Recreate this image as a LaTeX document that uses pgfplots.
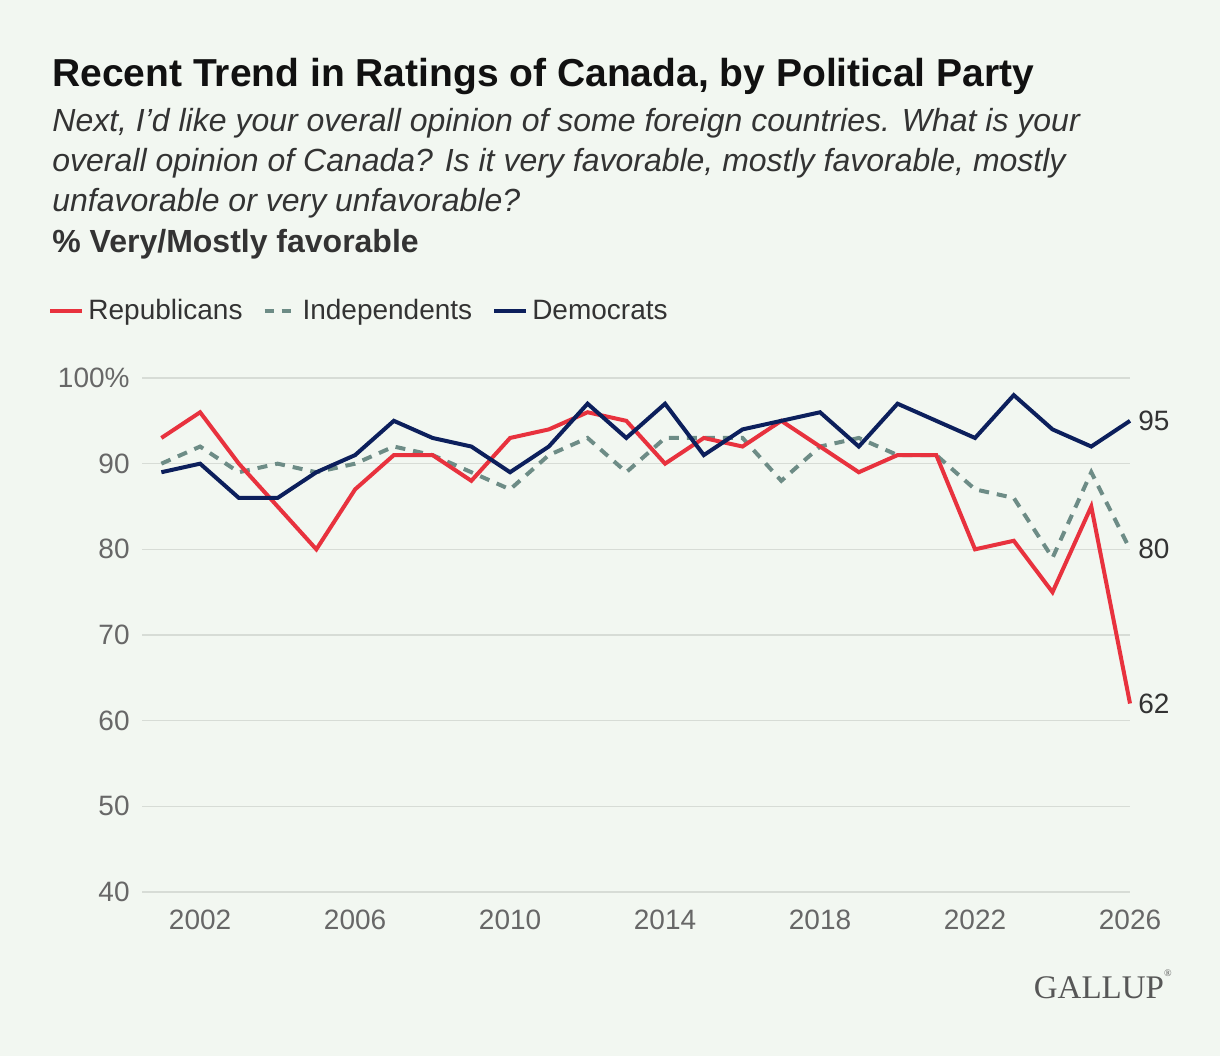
\documentclass[border=0pt]{standalone}
\usepackage{fontspec}
\setmainfont{Liberation Sans}
\newfontfamily\gallupfont{Liberation Serif}
\usepackage{pgfplots}
\usepackage{pgfplotstable}
\pgfplotsset{compat=1.18}
\definecolor{bg}{HTML}{F2F7F1}
\definecolor{rep}{HTML}{E8323E}
\definecolor{dem}{HTML}{0C1F5C}
\definecolor{ind}{HTML}{6D8C86}
\definecolor{gridc}{HTML}{D7DCD6}
\definecolor{tickc}{HTML}{676767}
\definecolor{titlec}{HTML}{111111}
\definecolor{subc}{HTML}{333333}

\pgfplotstableread{
year rep ind dem
2001 93 90 89
2002 96 92 90
2003 90 89 86
2004 85 90 86
2005 80 89 89
2006 87 90 91
2007 91 92 95
2008 91 91 93
2009 88 89 92
2010 93 87 89
2011 94 91 92
2012 96 93 97
2013 95 89 93
2014 90 93 97
2015 93 93 91
2016 92 93 94
2017 95 88 95
2018 92 92 96
2019 89 93 92
2020 91 91 97
2021 91 91 95
2022 80 87 93
2023 81 86 98
2024 75 79 94
2025 85 89 92
2026 62 80 95
}\datatable

\begin{document}
\begin{tikzpicture}[x=1pt,y=1pt]
\fill[bg] (0,0) rectangle (610,528);
\node[anchor=base west, inner sep=0pt, text=titlec] at (26,484.5) {\fontsize{19.5}{23}\selectfont\bfseries Recent Trend in Ratings of Canada, by Political Party};
\node[anchor=base west, inner sep=0pt, text=subc] at (26,462) {\fontsize{16}{20}\selectfont\itshape Next, I’d like your overall opinion of some foreign countries. What is your};
\node[anchor=base west, inner sep=0pt, text=subc] at (26,442) {\fontsize{16}{20}\selectfont\itshape overall opinion of Canada? Is it very favorable, mostly favorable, mostly};
\node[anchor=base west, inner sep=0pt, text=subc] at (26,422) {\fontsize{16}{20}\selectfont\itshape unfavorable or very unfavorable?};
\node[anchor=base west, inner sep=0pt, text=subc] at (26,401.5) {\fontsize{16}{20}\selectfont\bfseries \% Very/Mostly favorable};

\begin{axis}[
  at={(71pt,82pt)}, anchor=south west,
  scale only axis, width=494pt, height=257pt,
  xmin=2000.5, xmax=2026, ymin=40, ymax=100,
  clip=false,
  axis line style={draw=none},
  major tick length=0pt,
  ymajorgrids, grid style={gridc, line width=0.8pt},
  ytick={40,50,60,70,80,90,100},
  yticklabels={40,50,60,70,80,90,100\%},
  xtick={2002,2006,2010,2014,2018,2022,2026},
  xticklabels={2002,2006,2010,2014,2018,2022,2026},
  /pgf/number format/assume math mode=true,
  ticklabel style={font=\fontsize{14}{16}\selectfont, text=tickc, inner sep=0pt},
  yticklabel style={xshift=-6pt},
  xticklabel style={yshift=-9pt},
  legend columns=3,
  legend style={at={(axis description cs:-0.0951,1.1304)}, anchor=west,
    draw=none, fill=none, inner sep=0pt,
    font=\fontsize{14}{16}\selectfont, text=subc,
    /tikz/every even column/.append style={column sep=8pt}},
  legend image code/.code={\draw[#1] (0pt,0pt) -- (16pt,0pt);},
]
\addlegendimage{rep, line width=2pt}
\addlegendentry{Republicans}
\addlegendimage{ind, line width=2pt, dash pattern=on 4.5pt off 4pt}
\addlegendentry{Independents}
\addlegendimage{dem, line width=2pt}
\addlegendentry{Democrats}

\addplot[ind, line width=2pt, dash pattern=on 5pt off 4pt, forget plot] table[x=year, y=ind] {\datatable};
\addplot[rep, line width=2pt, forget plot] table[x=year, y=rep] {\datatable};
\addplot[dem, line width=2pt, forget plot] table[x=year, y=dem] {\datatable};

\node[anchor=west, inner sep=0pt, font=\fontsize{14}{16}\selectfont, text=subc] at (axis cs:2026,95) [xshift=4pt] {95};
\node[anchor=west, inner sep=0pt, font=\fontsize{14}{16}\selectfont, text=subc] at (axis cs:2026,80) [xshift=4pt] {80};
\node[anchor=west, inner sep=0pt, font=\fontsize{14}{16}\selectfont, text=subc] at (axis cs:2026,62) [xshift=4pt] {62};
\end{axis}

\node[anchor=base east, inner sep=0pt, text=black!66] at (586,29) {\gallupfont\fontsize{16.5}{18}\selectfont GALLUP\raisebox{1.4ex}{\fontsize{5}{5}\selectfont ®}};
\end{tikzpicture}
\end{document}
